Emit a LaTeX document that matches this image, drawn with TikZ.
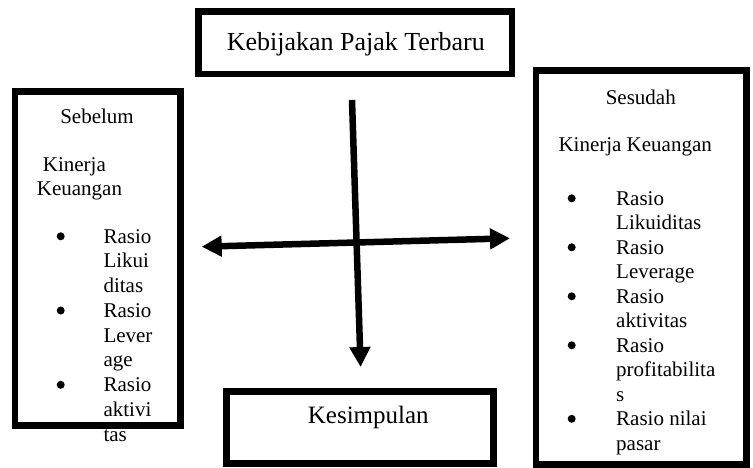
\documentclass[tikz,border=0pt]{standalone}
\usepackage{fontspec}
\setmainfont{Liberation Serif}
\usetikzlibrary{arrows.meta}
\tikzset{
  framebox/.style={draw=black, line width=6.7pt, rectangle, inner sep=0pt},
  bigtxt/.style={inner sep=0pt, font=\fontsize{26}{30}\selectfont},
  midtxt/.style={inner sep=0pt, font=\fontsize{25}{30}\selectfont},
  smalltxt/.style={inner sep=0pt, font=\fontsize{21}{24.5}\selectfont},
  bulletdot/.style={circle, fill=black, inner sep=0pt, minimum size=8pt},
  flowarrow/.style={line width=6.5pt, -{Triangle[length=20pt,width=20pt]}},
  duoarrow/.style={line width=6.5pt, {Triangle[length=20pt,width=20pt]}-{Triangle[length=20pt,width=20pt]}}
}
\begin{document}
\begin{tikzpicture}[x=1pt,y=-1pt]
\useasboundingbox (0,0) rectangle (753,467);
% boxes
\node[framebox, minimum width=313.5pt, minimum height=62.3pt] (top) at (355.25,42.85) {};
\node[framebox, minimum width=165.5pt, minimum height=333.8pt] (left) at (97.75,258.6) {};
\node[framebox, minimum width=210.7pt, minimum height=393.8pt] (right) at (641.35,267.6) {};
\node[framebox, minimum width=266.6pt, minimum height=71.6pt] (kes) at (360,427.5) {};
% box texts
\node[bigtxt, anchor=base] (toptxt) at (355.8,50) {Kebijakan Pajak Terbaru};
\node[midtxt, anchor=base] (kestxt) at (368.3,423) {Kesimpulan};
% left box
\node[smalltxt, anchor=base] (lt1) at (97,123.3) {Sebelum};
\node[smalltxt, anchor=base west] (lt2) at (42.7,171) {Kinerja};
\node[smalltxt, anchor=base west] (lt3) at (36.7,195) {Keuangan};
\node[bulletdot] (lb1) at (60.7,236.3) {};
\node[bulletdot] (lb2) at (60.7,310.5) {};
\node[bulletdot] (lb3) at (60.7,384.8) {};
\node[smalltxt, anchor=base west] (ll1) at (103.3,243) {Rasio};
\node[smalltxt, anchor=base west] (ll2) at (103.3,267.75) {Likui};
\node[smalltxt, anchor=base west] (ll3) at (103.3,292.5) {ditas};
\node[smalltxt, anchor=base west] (ll4) at (103.3,317.25) {Rasio};
\node[smalltxt, anchor=base west] (ll5) at (103.3,342) {Lever};
\node[smalltxt, anchor=base west] (ll6) at (103.3,366.75) {age};
\node[smalltxt, anchor=base west] (ll7) at (103.3,391.5) {Rasio};
\node[smalltxt, anchor=base west] (ll8) at (103.3,416.25) {aktivi};
\node[smalltxt, anchor=base west] (ll9) at (103.3,441) {tas};
% right box
\node[smalltxt, anchor=base] (rt1) at (640.8,104.3) {Sesudah};
\node[smalltxt, anchor=base west] (rt2) at (558.3,151) {Kinerja Keuangan};
\node[bulletdot] (rb1) at (571.7,198.3) {};
\node[bulletdot] (rb2) at (571.7,247.3) {};
\node[bulletdot] (rb3) at (571.7,296.3) {};
\node[bulletdot] (rb4) at (571.7,345.3) {};
\node[bulletdot] (rb5) at (571.7,418.8) {};
\node[smalltxt, anchor=base west] (rl1) at (616,205) {Rasio};
\node[smalltxt, anchor=base west] (rl2) at (616,229.5) {Likuiditas};
\node[smalltxt, anchor=base west] (rl3) at (616,254) {Rasio};
\node[smalltxt, anchor=base west] (rl4) at (616,278.5) {Leverage};
\node[smalltxt, anchor=base west] (rl5) at (616,303) {Rasio};
\node[smalltxt, anchor=base west] (rl6) at (616,327.5) {aktivitas};
\node[smalltxt, anchor=base west] (rl7) at (616,352) {Rasio};
\node[smalltxt, anchor=base west] (rl8) at (616,376.5) {profitabilita};
\node[smalltxt, anchor=base west] (rl9) at (616,401) {s};
\node[smalltxt, anchor=base west] (rl10) at (616,425.5) {Rasio nilai};
\node[smalltxt, anchor=base west] (rl11) at (616,450) {pasar};
% arrows
\coordinate (vtop) at (352,100);
\coordinate (vbot) at (360.6,367);
\coordinate (hleft) at (201.7,246.7);
\coordinate (hright) at (510,238.3);
\draw[flowarrow] (vtop) -- (vbot);
\draw[duoarrow] (hleft) -- (hright);
\end{tikzpicture}
\end{document}
